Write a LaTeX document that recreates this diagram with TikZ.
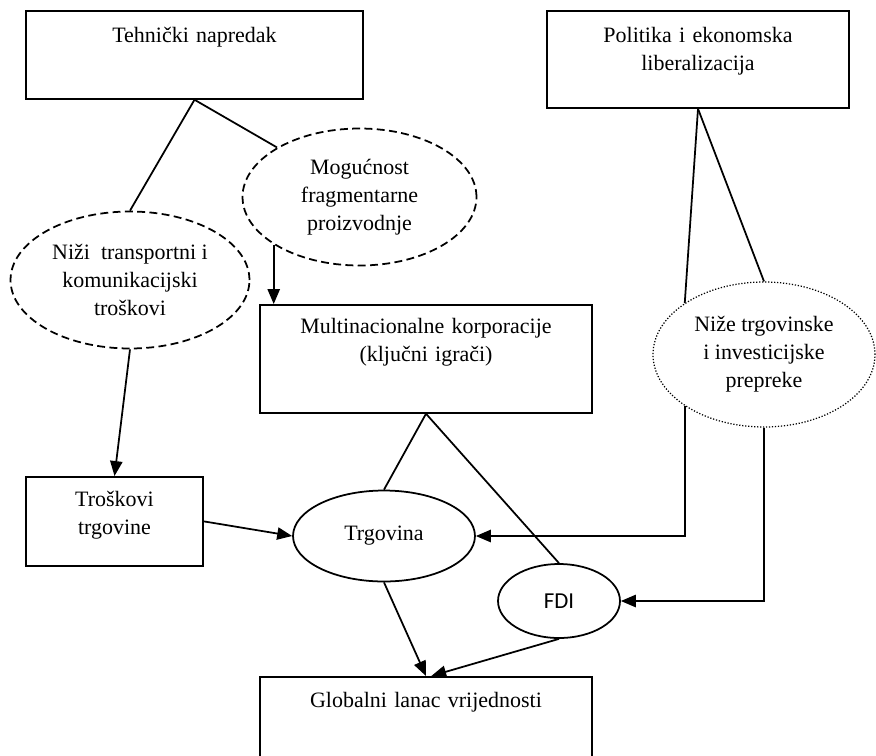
\documentclass[tikz,border=0pt]{standalone}
\usepackage{fontspec}
\setmainfont{Liberation Serif}
\newfontfamily\fdifont{Carlito}
\usetikzlibrary{arrows.meta,shapes.geometric}

\begin{document}
\begin{tikzpicture}[x=0.02cm,y=-0.02cm,line width=1pt,
  >={Triangle[length=8.5pt,width=7pt]},
  every node/.style={font=\fontsize{12.5}{16}\selectfont},
  okvir/.style={draw,rectangle,anchor=north,align=center,inner sep=0pt},
  oval/.style={draw,ellipse,align=center,inner sep=0pt},
  crtkano/.style={oval,dash pattern=on 4.5pt off 2.5pt},
  tockasto/.style={oval,line width=0.7pt,densely dotted,fill=white}]
 \useasboundingbox (0,0) rectangle (876,755);
 % pravokutnici
 \node[okvir,minimum width=6.74cm,text width=6.5cm,text height=0.64cm,text depth=1.12cm] (teh) at (194.5,10) {Tehnički napredak};
 \node[okvir,minimum width=6.04cm,text width=5.8cm,text height=0.64cm,text depth=1.30cm] (pol) at (698,10) {Politika i ekonomska\\liberalizacija};
 \node[okvir,minimum width=6.64cm,text width=6.4cm,text height=0.58cm,text depth=1.58cm] (mnc) at (426,304) {Multinacionalne korporacije\\(ključni igrači)};
 \node[okvir,minimum width=3.54cm,text width=3.3cm,text height=0.60cm,text depth=1.18cm] (trk) at (114.5,476) {Troškovi\\trgovine};
 \node[okvir,minimum width=6.64cm,text width=6.4cm,text height=0.62cm,text depth=1.26cm] (glob) at (426,676) {Globalni lanac vrijednosti};
 % elipse
 \node[crtkano,minimum width=4.68cm,minimum height=2.74cm] (mog) at (359.5,197) {Mogućnost\\fragmentarne\\proizvodnje};
 \node[crtkano,minimum width=4.78cm,minimum height=2.74cm] (niz) at (130,280) {Niži\ \ transportni i\\komunikacijski\\troškovi};
 \node[oval,minimum width=3.64cm,minimum height=1.82cm] (trg) at (384,536) {Trgovina};
 \node[oval,minimum width=2.44cm,minimum height=1.48cm,font=\fdifont\fontsize{13}{16}\selectfont] (fdi) at (559,601) {FDI};
 \node[tockasto,minimum width=4.44cm,minimum height=2.9cm] (nize) at (764,354.5) {Niže trgovinske\\i investicijske\\prepreke};
 % veze
 \draw (teh.south) -- (niz.north);
 \draw (teh.south) -- (mog.149);
 \draw[->] (mog.209) -- (mog.209 |- mnc.north);
 \draw[->] (niz.south) -- (trk.north);
 \draw[->] (trk.east) -- (trg.west);
 \draw (mnc.south) -- (trg.north);
 \draw (mnc.south) -- (fdi.north);
 \draw (pol.south) -- (nize.147);
 \draw (pol.south) -- (nize.north);
 \draw[->] (nize.213) |- (trg.east);
 \draw[->] (nize.south) |- (fdi.east);
 \draw[->] (trg.south) -- (glob.north);
 \draw[->] (fdi.south) -- ([xshift=3pt]glob.north);
\end{tikzpicture}
\end{document}
